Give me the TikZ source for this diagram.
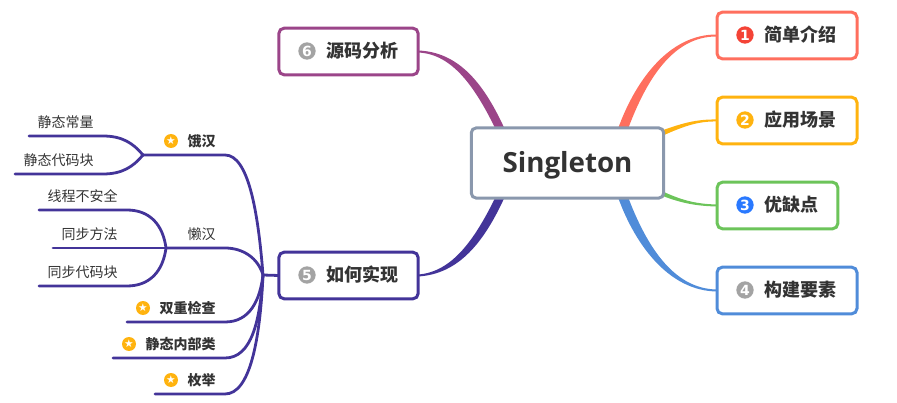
\documentclass[tikz,border=0pt]{standalone}
\usepackage{fontspec}
\setmainfont{Open Sans}
\newfontfamily\cjk{Noto Sans CJK SC}
\newfontfamily\djsans{DejaVu Sans}
\usetikzlibrary{backgrounds,calc}
\definecolor{ink}{HTML}{333333}
\definecolor{cred}{HTML}{FF6F5E}
\definecolor{cyel}{HTML}{FFB30F}
\definecolor{cgrn}{HTML}{6CC45A}
\definecolor{cblu}{HTML}{508CD9}
\definecolor{cpur}{HTML}{9B4589}
\definecolor{cdrk}{HTML}{433499}
\definecolor{croot}{HTML}{8A98AD}
\definecolor{igrey}{HTML}{A3A3A3}
\definecolor{ired}{HTML}{F44336}
\definecolor{iblu}{HTML}{2979FF}
\tikzset{
  x=0.75pt,y=-0.75pt,
  rootbox/.style={draw=croot,fill=white,line width=2.25pt,rounded corners=3.5pt,minimum width=144.2pt,minimum height=52.5pt,outer sep=0pt,inner sep=0pt,text=ink,font=\fontsize{20.8}{24}\bfseries},
  topicbox/.style={draw=#1,fill=white,line width=2.25pt,rounded corners=4pt,minimum height=35pt,outer sep=0pt,inner sep=0pt},
  toptext/.style={text=ink,font=\cjk\fontsize{13.5}{16}\bfseries,inner sep=0pt},
  numicon/.style={circle,fill=#1,text=white,minimum size=13pt,inner sep=0pt,font=\djsans\fontsize{10.5}{11}\bfseries},
  staricon/.style={circle,fill=cyel,text=white,minimum size=10.5pt,inner sep=0pt,font=\djsans\fontsize{8}{8}\selectfont},
  leaftext/.style={text=ink,font=\cjk\fontsize{10.5}{12}\selectfont,inner sep=0pt,anchor=east},
  midtext/.style={text=ink,font=\cjk\fontsize{10.5}{12}\bfseries,inner sep=0pt,anchor=east},
  tree/.style={draw=cdrk,line width=2.1pt,line cap=round},
}
\begin{document}
\begin{tikzpicture}
\useasboundingbox (0,0) rectangle (897,403);
% central and main topics
\node[rootbox] (root) at (567.5,163) {\raisebox{-6.75pt}[0pt][0pt]{Singleton}};
\node[topicbox=cred,minimum width=105pt] (t1) at (787,35.5) {};
\node[topicbox=cyel,minimum width=105pt] (t2) at (787,120.5) {};
\node[topicbox=cgrn,minimum width=90.5pt] (t3) at (777.5,205.5) {};
\node[topicbox=cblu,minimum width=105pt] (t4) at (787,290.5) {};
\node[topicbox=cdrk,minimum width=104.5pt] (t5) at (348.5,275.5) {};
\node[topicbox=cpur,minimum width=104.5pt] (t6) at (348.5,51.5) {};
% labels in the main topics
\node[numicon=ired] (i1) at (745,35) {1};
\node[toptext,anchor=west] (l1) at (764,35) {简单介绍};
\node[numicon=cyel] (i2) at (745,120) {2};
\node[toptext,anchor=west] (l2) at (764,120) {应用场景};
\node[numicon=iblu] (i3) at (745,205) {3};
\node[toptext,anchor=west] (l3) at (764,205) {优缺点};
\node[numicon=igrey] (i4) at (745,290) {4};
\node[toptext,anchor=west] (l4) at (764,290) {构建要素};
\node[numicon=igrey] (i5) at (307,275) {5};
\node[toptext,anchor=west] (l5) at (326,275) {如何实现};
\node[numicon=igrey] (i6) at (307,51) {6};
\node[toptext,anchor=west] (l6) at (326,51) {源码分析};
% sub topics
\node[midtext] (e) at (216,141) {饿汉};
\node[staricon] (se) at (171,141) {\char"2605};
\node[leaftext] (lz) at (216,234) {懒汉};
\node[midtext] (sc) at (216,308) {双重检查};
\node[staricon] (ssc) at (143,308) {\char"2605};
\node[midtext] (si) at (216,344) {静态内部类};
\node[staricon] (ssi) at (129,344) {\char"2605};
\node[midtext] (en) at (216,380) {枚举};
\node[staricon] (sen) at (171,380) {\char"2605};
\node[leaftext] (a1) at (94,122) {静态常量};
\node[leaftext] (a2) at (94,160) {静态代码块};
\node[leaftext] (b1) at (118,196) {线程不安全};
\node[leaftext] (b2) at (118,234) {同步方法};
\node[leaftext] (b3) at (118,272) {同步代码块};
% tree joints and free ends
\coordinate (hub) at (263,275);
\coordinate (he) at (143,155);
\coordinate (hl) at (166,248);
\coordinate (ea1) at (29,136);
\coordinate (ea2) at (15,174);
\coordinate (eb1) at (39,210);
\coordinate (eb2) at (53,248);
\coordinate (eb3) at (39,286);
\coordinate (esc) at (127,322);
\coordinate (esi) at (113,358);
\coordinate (een) at (155,394);
\begin{scope}[on background layer]
  % tapered branches
  \fill[cred] ($(root.north)+(49,5)$) .. controls +(17,-50) and (668,34) .. ($(t1.west)+(0,-1)$) -- ($(t1.west)+(0,1)$) .. controls (672,36) and (645,82) .. ($(root.north)+(59,5)$) -- cycle;
  \fill[cyel] ($(root.north east)+(-6,4)$) .. controls (680,124) and (695,119) .. ($(t2.west)+(0,-1)$) -- ($(t2.west)+(0,1)$) .. controls (697,121) and (682,127) .. ($(root.north east)+(-4,9)$) -- cycle;
  \fill[cgrn] ($(root.south east)+(-6,-9)$) .. controls (680,200) and (695,204) .. ($(t3.west)+(0,-1)$) -- ($(t3.west)+(0,1)$) .. controls (695,206) and (680,203) .. ($(root.south east)+(-6,-4)$) -- cycle;
  \fill[cblu] ($(root.south)+(49,-5)$) .. controls +(17,50) and (668,291) .. ($(t4.west)+(0,1)$) -- ($(t4.west)+(0,-1)$) .. controls (672,289) and (645,243) .. ($(root.south)+(59,-5)$) -- cycle;
  \fill[cpur] ($(root.north)+(-61,5)$) .. controls (484,82) and (458,52) .. ($(t6.east)+(0,-1)$) -- ($(t6.east)+(0,1)$) .. controls (452,54) and (475,86) .. ($(root.north)+(-70,5)$) -- cycle;
  \fill[cdrk] ($(root.south)+(-61,-5)$) .. controls (484,244) and (458,274) .. ($(t5.east)+(0,1)$) -- ($(t5.east)+(0,-1)$) .. controls (452,272) and (475,240) .. ($(root.south)+(-70,-5)$) -- cycle;
  % tree
  \draw[tree] (t5.west) -- (hub);
  \draw[tree] (hub) .. controls (258,210) and (248,155) .. (225,155) -- (he);
  \draw[tree] (hub) .. controls (258,258) and (243,248) .. (225,248) -- (hl);
  \draw[tree] (hub) .. controls (260,300) and (250,322) .. (225,322) -- (esc);
  \draw[tree] (hub) .. controls (260,320) and (252,358) .. (225,358) -- (esi);
  \draw[tree] (hub) .. controls (260,340) and (250,394) .. (225,394) -- (een);
  \draw[tree] (he) .. controls (133,143) and (122,136) .. (103,136) -- (ea1);
  \draw[tree] (he) .. controls (133,167) and (122,174) .. (103,174) -- (ea2);
  \draw[tree] (hl) .. controls (163,225) and (150,210) .. (127,210) -- (eb1);
  \draw[tree] (hl) -- (eb2);
  \draw[tree] (hl) .. controls (163,271) and (150,286) .. (127,286) -- (eb3);
\end{scope}
\end{tikzpicture}
\end{document}
